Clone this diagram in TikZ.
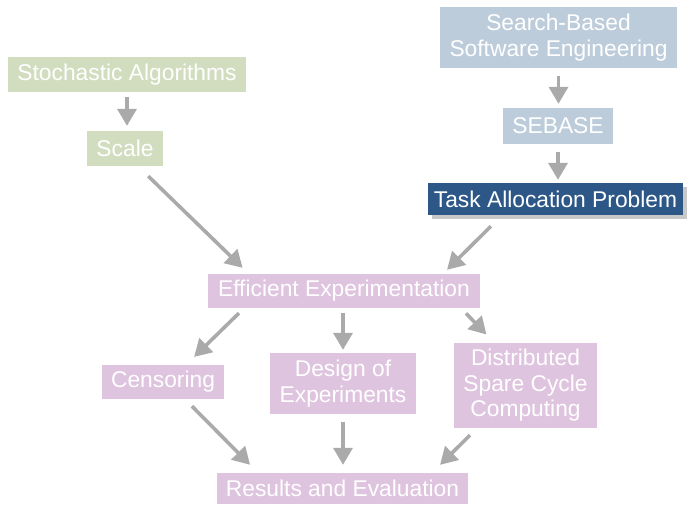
\documentclass[tikz,border=0pt]{standalone}
\usepackage{fontspec}
\setmainfont{Liberation Sans}
\usetikzlibrary{arrows.meta,backgrounds}

\definecolor{boxgreen}{RGB}{210,221,191}
\definecolor{boxgrey}{RGB}{189,204,219}
\definecolor{boxnavy}{RGB}{44,87,134}
\definecolor{boxpink}{RGB}{223,196,223}
\definecolor{arrowgrey}{RGB}{170,170,170}
\definecolor{shadowgrey}{RGB}{200,200,200}

\tikzset{
  box/.style={rectangle, inner sep=0pt, text=white, align=center,
    font=\fontsize{22.8}{25.5}\selectfont},
  greenbox/.style={box, fill=boxgreen},
  greybox/.style={box, fill=boxgrey},
  navybox/.style={box, fill=boxnavy},
  pinkbox/.style={box, fill=boxpink},
  arr/.style={draw=arrowgrey, line width=3.6pt,
    -{Triangle[length=17pt,width=19pt]}, arrowgrey},
}

\begin{document}
\begin{tikzpicture}[x=1pt,y=-1pt]
  \useasboundingbox (0,0) rectangle (691,504);

  % left branch
  \node[greenbox, minimum width=238pt, minimum height=35pt] (sa) at (127,74.5) {Stochastic Algorithms};
  \node[greenbox, minimum width=76pt, minimum height=35pt] (scale) at (125,148.5) {Scale};

  % right branch
  \node[greybox, minimum width=237pt, minimum height=61pt] (sbse) at (558.5,37.5) {Search-Based\\Software Engineering};
  \node[greybox, minimum width=110pt, minimum height=36pt] (sebase) at (558,126) {SEBASE};
  \node[navybox, minimum width=255pt, minimum height=32pt] (tap) at (555.5,199) {Task Allocation Problem};
  \begin{scope}[on background layer]
    \fill[shadowgrey] ([shift={(4pt,-4pt)}]tap.south west) rectangle ([shift={(4pt,-4pt)}]tap.north east);
  \end{scope}

  % experimentation
  \node[pinkbox, minimum width=272pt, minimum height=34pt] (ee) at (344,291) {Efficient Experimentation};
  \node[pinkbox, minimum width=122pt, minimum height=34pt] (cens) at (163,382) {Censoring};
  \node[pinkbox, minimum width=146pt, minimum height=61pt] (doe) at (343,383.5) {Design of\\Experiments};
  \node[pinkbox, minimum width=143pt, minimum height=85pt] (dscc) at (525.5,385.5) {Distributed\\Spare Cycle\\Computing};
  \node[pinkbox, minimum width=251pt, minimum height=31pt] (re) at (342.5,488.5) {Results and Evaluation};

  % connectors
  \draw[arr, shorten <=5pt, shorten >=5pt] (sa.south) -- (sa.south |- scale.north);
  \draw[arr, shorten <=8pt, shorten >=4pt] (sbse.south) -- (sbse.south |- sebase.north);
  \draw[arr, shorten <=8pt, shorten >=3pt] (sebase.south) -- (sebase.south |- tap.north);
  \draw[arr, shorten <=14.3pt, shorten >=8.6pt] ([xshift=13pt]scale.south) -- ([xshift=41pt]ee.north west);
  \draw[arr, shorten <=15.6pt, shorten >=5.7pt] ([xshift=-53.5pt]tap.south) -- ([xshift=99pt]ee.north);

  \draw[arr, shorten <=7pt, shorten >=11.3pt] ([xshift=-100pt]ee.south) -- ([xshift=23pt]cens.north);
  \draw[arr, shorten <=5pt, shorten >=3pt] (ee.south -| doe.north) -- (doe.north);
  \draw[arr, shorten <=7.2pt, shorten >=11.6pt] ([xshift=117pt]ee.south) -- ([xshift=-31pt]dscc.north);

  \draw[arr, shorten <=9.9pt, shorten >=11.3pt] ([xshift=22pt]cens.south) -- ([xshift=-84.5pt]re.north);
  \draw[arr, shorten <=8pt, shorten >=8pt] (doe.south) -- (doe.south |- re.north);
  \draw[arr, shorten <=9.9pt, shorten >=11.3pt] ([xshift=-48.5pt]dscc.south) -- ([xshift=89.5pt]re.north);
\end{tikzpicture}
\end{document}
